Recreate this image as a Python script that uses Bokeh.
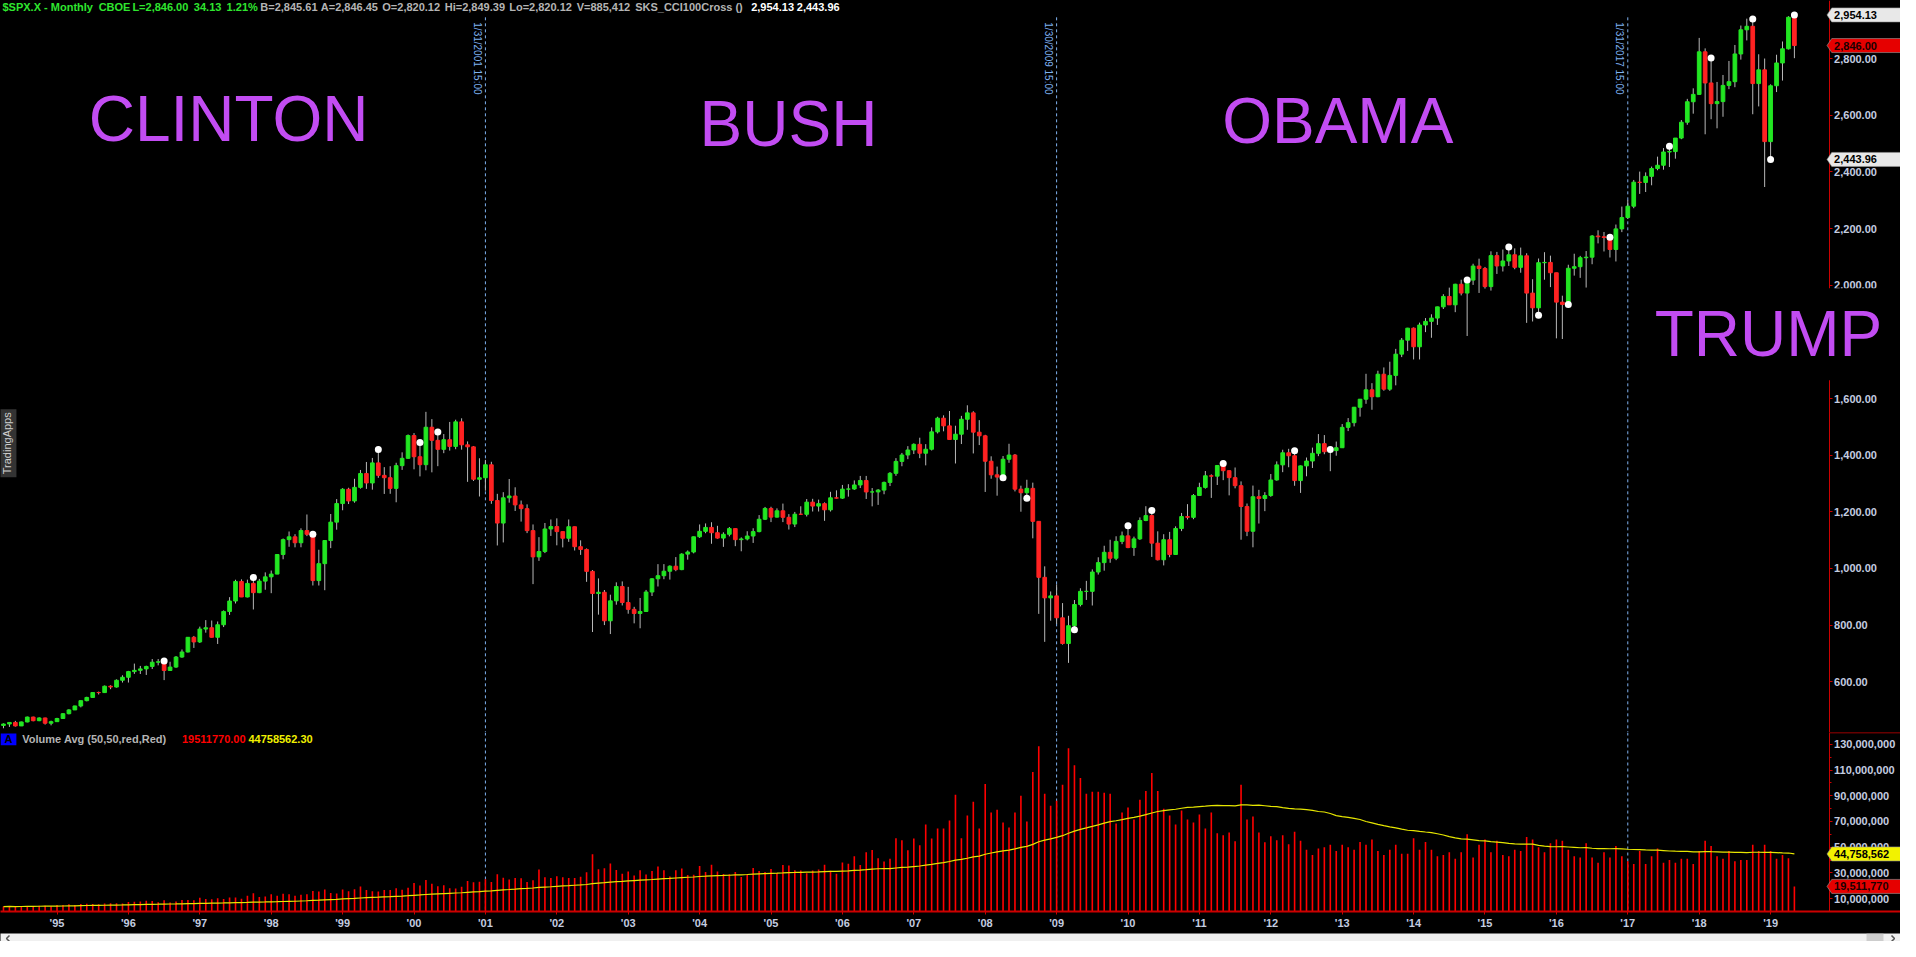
import numpy as np
import pandas as pd
from bokeh.plotting import figure
from bokeh.layouts import column
from bokeh.models import Range1d, FixedTicker, NumeralTickFormatter, Label, Span, LinearAxis
from bokeh.embed import file_html
from bokeh.resources import INLINE

# ------------------------------------------------------------------ data
first_month = "1994-04"
first_open = 445.77

close_1994 = [450.91, 456.50, 444.27, 458.26, 475.49, 462.69, 472.35, 453.69, 459.27]
high_1994 = [453.0, 457.6, 462.0, 459.3, 477.1, 476.9, 474.5, 473.2, 462.7]
low_1994 = [435.9, 440.7, 441.9, 443.8, 456.9, 460.5, 461.0, 449.0, 446.3]

close_1995 = [470.42, 487.39, 500.71, 514.71, 533.40, 544.75, 562.06, 561.88, 584.41, 581.50, 605.37, 615.93]
high_1995 = [472.8, 489.2, 503.2, 515.3, 533.8, 547.1, 563.8, 565.3, 586.8, 587.6, 608.4, 622.9]
low_1995 = [458.0, 468.9, 485.1, 500.2, 509.8, 531.0, 544.2, 555.2, 560.4, 573.9, 579.8, 597.3]

close_1996 = [636.02, 640.43, 645.50, 654.17, 669.12, 670.63, 639.95, 651.99, 687.33, 705.27, 757.02, 740.74]
high_1996 = [638.5, 664.2, 656.0, 656.7, 680.3, 680.3, 673.0, 670.7, 690.9, 714.1, 758.0, 761.8]
low_1996 = [597.3, 628.0, 627.6, 624.1, 645.0, 658.0, 605.9, 639.7, 649.5, 684.9, 703.5, 719.5]

close_1997 = [786.16, 790.82, 757.12, 801.34, 848.28, 885.14, 954.29, 899.47, 947.28, 914.62, 955.40, 970.43]
high_1997 = [794.7, 817.7, 816.3, 812.9, 851.9, 898.7, 960.3, 961.6, 960.5, 968.5, 963.1, 986.3]
low_1997 = [737.0, 773.4, 756.1, 733.5, 793.2, 836.1, 876.4, 899.0, 898.0, 855.3, 913.0, 924.9]

close_1998 = [980.28, 1049.34, 1101.75, 1111.75, 1090.82, 1133.84, 1120.67, 957.28, 1017.01, 1098.67, 1163.63, 1229.23]
high_1998 = [992.7, 1051.0, 1105.7, 1130.5, 1121.0, 1141.8, 1190.6, 1121.0, 1066.1, 1100.0, 1192.3, 1244.9]
low_1998 = [912.8, 980.0, 1032.5, 1076.7, 1074.7, 1074.9, 1114.3, 939.98, 939.9, 923.3, 1071.8, 1136.9]

close_1999 = [1279.64, 1238.33, 1286.37, 1335.18, 1301.84, 1372.71, 1328.72, 1320.41, 1282.71, 1362.93, 1388.91, 1469.25]
high_1999 = [1283.5, 1284.9, 1316.6, 1347.8, 1375.98, 1390.2, 1420.3, 1357.7, 1361.0, 1373.2, 1410.0, 1473.1]
low_1999 = [1205.5, 1227.5, 1232.2, 1281.9, 1281.0, 1278.2, 1320.0, 1263.1, 1263.6, 1233.7, 1348.0, 1387.4]

close_2000 = [1394.46, 1366.42, 1498.58, 1452.43, 1420.60, 1454.60, 1430.83, 1517.68, 1436.51, 1429.40, 1314.95, 1320.28]
high_2000 = [1478.0, 1444.6, 1552.9, 1527.2, 1481.5, 1474.6, 1517.3, 1525.2, 1530.1, 1448.6, 1431.8, 1389.1]
low_2000 = [1350.1, 1325.1, 1346.6, 1339.4, 1361.1, 1407.0, 1416.1, 1421.0, 1419.4, 1305.8, 1308.9, 1254.1]

close_2001 = [1366.01, 1239.94, 1160.33, 1249.46, 1255.82, 1224.42, 1211.23, 1133.58, 1040.94, 1059.78, 1139.45, 1148.08]
high_2001 = [1383.4, 1376.7, 1263.5, 1269.3, 1315.9, 1286.6, 1239.8, 1226.3, 1155.4, 1110.6, 1160.6, 1173.0]
low_2001 = [1274.6, 1228.3, 1081.2, 1091.9, 1232.4, 1203.0, 1165.5, 1124.9, 944.8, 1026.8, 1054.3, 1114.9]

close_2002 = [1130.20, 1106.73, 1147.39, 1076.92, 1067.14, 989.82, 911.62, 916.07, 815.28, 885.76, 936.31, 879.82]
high_2002 = [1176.97, 1130.5, 1173.0, 1147.8, 1099.3, 1070.7, 994.5, 965.0, 924.0, 907.4, 951.1, 954.3]
low_2002 = [1081.7, 1074.4, 1094.0, 1063.5, 1048.0, 952.9, 775.7, 837.0, 800.2, 768.6, 872.1, 869.5]

close_2003 = [855.70, 841.15, 848.18, 916.92, 963.59, 974.50, 990.31, 1008.01, 995.97, 1050.71, 1058.20, 1111.92]
high_2003 = [935.1, 864.6, 895.9, 924.2, 965.4, 1015.3, 1015.4, 1011.0, 1040.3, 1053.8, 1063.7, 1112.6]
low_2003 = [840.3, 806.3, 788.9, 847.9, 902.8, 936.4, 962.1, 960.8, 990.4, 994.0, 1031.2, 1053.4]

close_2004 = [1131.13, 1144.94, 1126.21, 1107.30, 1120.68, 1140.84, 1101.72, 1104.24, 1114.58, 1130.20, 1173.82, 1211.92]
high_2004 = [1155.4, 1158.98, 1163.2, 1150.6, 1127.7, 1146.3, 1142.0, 1109.7, 1131.5, 1142.1, 1188.5, 1217.3]
low_2004 = [1108.0, 1124.4, 1087.2, 1105.0, 1076.3, 1113.3, 1078.8, 1060.7, 1099.2, 1090.2, 1127.6, 1171.0]

close_2005 = [1181.27, 1203.60, 1180.59, 1156.85, 1191.50, 1191.33, 1234.18, 1220.33, 1228.81, 1207.01, 1249.48, 1248.29]
high_2005 = [1217.9, 1212.2, 1229.1, 1191.9, 1199.6, 1219.6, 1245.2, 1245.9, 1243.1, 1233.3, 1270.6, 1275.8]
low_2005 = [1163.8, 1180.0, 1163.7, 1137.5, 1146.2, 1188.8, 1183.6, 1201.1, 1201.1, 1168.2, 1201.1, 1246.6]

close_2006 = [1280.08, 1280.66, 1294.83, 1310.61, 1270.09, 1270.20, 1276.66, 1303.82, 1335.85, 1377.94, 1400.63, 1418.30]
high_2006 = [1294.9, 1297.6, 1310.9, 1326.7, 1326.7, 1284.0, 1280.4, 1306.7, 1340.3, 1389.5, 1407.9, 1431.8]
low_2006 = [1245.7, 1253.6, 1277.4, 1284.0, 1245.3, 1219.3, 1224.5, 1262.0, 1290.9, 1327.1, 1360.9, 1385.9]

close_2007 = [1438.24, 1406.82, 1420.86, 1482.37, 1530.62, 1503.35, 1455.27, 1473.99, 1526.75, 1549.38, 1481.14, 1468.36]
high_2007 = [1441.6, 1461.6, 1438.9, 1498.0, 1535.6, 1540.6, 1555.9, 1503.9, 1538.7, 1576.1, 1555.1, 1523.6]
low_2007 = [1403.97, 1389.4, 1363.98, 1416.4, 1476.7, 1484.2, 1454.3, 1370.6, 1439.3, 1489.6, 1406.1, 1435.7]

close_2008 = [1378.55, 1330.63, 1322.70, 1385.59, 1400.38, 1280.00, 1267.38, 1282.83, 1166.36, 968.75, 896.24, 903.25]
high_2008 = [1471.8, 1396.0, 1359.7, 1397.0, 1440.2, 1404.1, 1292.2, 1313.2, 1303.0, 1167.0, 1007.5, 918.9]
low_2008 = [1270.1, 1316.8, 1256.98, 1320.0, 1373.1, 1272.0, 1200.4, 1247.5, 1106.4, 839.8, 741.0, 815.7]

close_2009 = [825.88, 735.09, 797.87, 872.81, 919.14, 919.32, 987.48, 1020.62, 1057.08, 1036.19, 1095.63, 1115.10]
high_2009 = [943.9, 877.9, 832.98, 888.7, 930.2, 956.2, 996.7, 1039.5, 1080.2, 1101.4, 1113.7, 1130.4]
low_2009 = [804.3, 731.1, 666.8, 783.3, 866.1, 888.9, 869.3, 978.5, 992.3, 1020.2, 1029.4, 1085.9]

close_2010 = [1073.87, 1104.49, 1169.43, 1186.69, 1089.41, 1030.71, 1101.60, 1049.33, 1141.20, 1183.26, 1180.55, 1257.64]
high_2010 = [1150.5, 1112.4, 1180.2, 1219.8, 1205.1, 1131.2, 1120.95, 1129.2, 1148.7, 1196.1, 1227.1, 1262.6]
low_2010 = [1071.6, 1044.5, 1101.0, 1167.0, 1040.8, 1028.3, 1010.9, 1039.7, 1048.1, 1131.9, 1173.0, 1173.8]

close_2011 = [1286.12, 1327.22, 1325.83, 1363.61, 1345.20, 1320.64, 1292.28, 1218.89, 1131.42, 1253.30, 1246.96, 1257.60]
high_2011 = [1302.7, 1344.1, 1332.3, 1364.6, 1370.6, 1346.0, 1356.5, 1307.4, 1229.3, 1292.7, 1277.6, 1269.4]
low_2011 = [1257.5, 1282.0, 1249.1, 1294.7, 1311.8, 1258.1, 1282.9, 1101.5, 1114.2, 1074.8, 1158.7, 1202.4]

close_2012 = [1312.41, 1365.68, 1408.47, 1397.91, 1310.33, 1362.16, 1379.32, 1406.58, 1440.67, 1412.16, 1416.18, 1426.19]
high_2012 = [1333.5, 1378.0, 1419.2, 1422.4, 1415.3, 1363.5, 1391.7, 1426.7, 1474.5, 1470.96, 1419.7, 1448.0]
low_2012 = [1253.0, 1310.0, 1340.0, 1357.4, 1291.98, 1266.7, 1325.4, 1354.7, 1396.6, 1403.3, 1343.4, 1398.1]

close_2013 = [1498.11, 1514.68, 1569.19, 1597.57, 1630.74, 1606.28, 1685.73, 1632.97, 1681.55, 1756.54, 1805.81, 1848.36]
high_2013 = [1509.9, 1530.9, 1570.3, 1597.6, 1687.2, 1654.2, 1698.0, 1709.7, 1729.9, 1775.2, 1813.6, 1849.4]
low_2013 = [1426.0, 1485.0, 1501.5, 1536.0, 1581.3, 1560.3, 1604.6, 1627.5, 1627.0, 1646.5, 1746.2, 1767.99]

close_2014 = [1782.59, 1859.45, 1872.34, 1883.95, 1923.57, 1960.23, 1930.67, 2003.37, 1972.29, 2018.05, 2067.56, 2058.90]
high_2014 = [1850.8, 1867.9, 1883.97, 1897.3, 1924.0, 1968.2, 1991.4, 2005.0, 2019.3, 2018.2, 2075.8, 2093.6]
low_2014 = [1737.9, 1737.9, 1834.4, 1814.4, 1859.8, 1915.98, 1930.0, 1904.8, 1964.0, 1820.7, 2001.0, 1972.6]

close_2015 = [1994.99, 2104.50, 2067.89, 2085.51, 2107.39, 2063.11, 2103.84, 1972.18, 1920.03, 2079.36, 2080.41, 2043.94]
high_2015 = [2064.4, 2119.6, 2117.5, 2125.9, 2134.7, 2130.0, 2132.8, 2112.7, 2021.0, 2094.3, 2116.5, 2104.3]
low_2015 = [1988.1, 1980.9, 2039.7, 2048.4, 2067.9, 2056.3, 2044.0, 1867.0, 1871.9, 1893.7, 2019.4, 1993.3]

close_2016 = [1940.24, 1932.23, 2059.74, 2065.30, 2096.95, 2098.86, 2173.60, 2170.95, 2168.27, 2126.15, 2198.81, 2238.83]
high_2016 = [2044.0, 1962.96, 2072.2, 2111.1, 2103.5, 2120.6, 2177.1, 2193.8, 2187.9, 2169.6, 2214.1, 2277.5]
low_2016 = [1812.3, 1810.1, 1931.8, 2033.8, 2025.9, 1991.7, 2074.0, 2147.6, 2119.1, 2097.8, 2083.8, 2187.4]

close_2017 = [2278.87, 2363.64, 2362.72, 2384.20, 2411.80, 2423.41, 2470.30, 2471.65, 2519.36, 2575.26, 2647.58, 2673.61]
high_2017 = [2300.99, 2371.5, 2400.98, 2398.2, 2418.7, 2453.8, 2484.0, 2490.9, 2519.4, 2582.98, 2657.7, 2694.97]
low_2017 = [2233.6, 2271.7, 2322.3, 2328.95, 2352.7, 2405.7, 2407.7, 2417.35, 2446.6, 2515.4, 2566.3, 2605.5]

close_2018 = [2823.81, 2713.83, 2640.87, 2648.05, 2705.27, 2718.37, 2816.29, 2901.52, 2913.98, 2711.74, 2760.17, 2506.85]
high_2018 = [2872.9, 2835.96, 2801.9, 2717.5, 2742.1, 2791.5, 2848.0, 2916.5, 2940.9, 2939.9, 2815.2, 2800.2]
low_2018 = [2671.9, 2532.7, 2585.9, 2553.8, 2594.6, 2691.99, 2698.95, 2796.3, 2864.1, 2603.5, 2631.1, 2346.6]

close_2019 = [2704.10, 2784.49, 2834.40, 2945.83, 2846.00]
high_2019 = [2708.95, 2813.5, 2860.3, 2949.5, 2954.13]
low_2019 = [2443.96, 2681.8, 2722.3, 2832.0, 2801.4]

# monthly volume, millions
vol_1994 = [3.8, 4.1, 3.7, 3.9, 4.3, 4.2, 4.5, 4.4, 4.1]
vol_1995 = [5.0, 5.1, 5.6, 5.0, 5.9, 6.1, 5.9, 5.7, 6.2, 6.5, 6.4, 6.2]
vol_1996 = [7.4, 7.6, 7.8, 8.4, 8.1, 7.2, 8.8, 7.0, 7.7, 9.0, 8.9, 8.8]
vol_1997 = [10.6, 9.8, 9.5, 10.3, 9.8, 10.8, 10.8, 10.0, 12.3, 14.2, 11.2, 11.6]
vol_1998 = [13.4, 12.2, 13.8, 13.5, 12.2, 13.1, 13.5, 16.0, 15.6, 17.2, 14.3, 14.0]
vol_1999 = [17.1, 15.7, 17.4, 19.4, 16.7, 15.8, 15.6, 16.7, 16.7, 18.0, 16.9, 18.5]
vol_2000 = [22.1, 20.2, 24.4, 21.6, 19.7, 20.5, 18.1, 17.9, 19.2, 23.8, 22.8, 23.1]
vol_2001 = [25.1, 23.0, 28.9, 26.3, 24.8, 26.0, 25.9, 23.0, 24.3, 32.6, 26.6, 26.0]
vol_2002 = [27.5, 26.6, 26.0, 26.0, 27.0, 30.5, 44.5, 32.8, 33.6, 37.4, 32.2, 29.3]
vol_2003 = [31.1, 27.9, 32.0, 28.7, 31.4, 35.0, 32.0, 27.3, 32.0, 33.4, 28.4, 28.5]
vol_2004 = [35.3, 30.8, 36.3, 31.2, 29.1, 29.0, 30.7, 26.9, 28.7, 33.8, 31.4, 30.7]
vol_2005 = [33.1, 30.0, 36.1, 35.7, 32.1, 31.8, 29.7, 31.9, 32.6, 36.3, 31.6, 29.4]
vol_2006 = [38.1, 37.2, 43.0, 36.1, 46.1, 47.9, 41.4, 38.8, 41.1, 57.0, 55.4, 47.7]
vol_2007 = [56.7, 51.5, 67.7, 56.7, 64.6, 64.6, 70.8, 90.8, 57.0, 74.6, 85.4, 64.6]
vol_2008 = [99.2, 76.9, 79.2, 69.2, 65.4, 76.9, 90.0, 70.0, 108.5, 128.5, 91.5, 82.3]
vol_2009 = [86.2, 98.5, 126.9, 113.8, 103.8, 91.5, 93.1, 93.1, 92.3, 91.5, 68.5, 76.9]
vol_2010 = [80.8, 71.5, 86.9, 93.8, 107.7, 93.8, 80.0, 74.6, 67.7, 78.5, 71.5, 69.2]
vol_2011 = [75.4, 64.6, 76.9, 60.8, 59.2, 61.5, 54.6, 98.5, 71.5, 73.8, 61.5, 53.8]
vol_2012 = [58.5, 55.4, 59.2, 52.3, 62.0, 55.0, 48.0, 44.0, 49.0, 50.0, 52.0, 47.0]
vol_2013 = [52.0, 50.0, 48.0, 54.0, 52.0, 56.0, 47.0, 44.0, 48.0, 52.0, 45.0, 45.0]
vol_2014 = [57.0, 48.0, 54.0, 48.0, 43.0, 44.0, 46.0, 41.0, 46.0, 60.0, 42.0, 52.0]
vol_2015 = [56.0, 46.0, 55.0, 44.0, 43.0, 48.0, 47.0, 58.0, 56.0, 50.0, 46.0, 53.0]
vol_2016 = [56.0, 55.0, 48.0, 43.0, 42.0, 53.0, 42.0, 38.0, 46.0, 42.0, 51.0, 43.0]
vol_2017 = [39.0, 37.0, 47.0, 37.0, 43.0, 49.0, 38.0, 40.0, 38.0, 41.0, 41.0, 37.0]
vol_2018 = [47.0, 55.0, 51.0, 43.0, 41.0, 47.0, 39.0, 40.0, 40.0, 52.0, 47.0, 52.0]
vol_2019 = [47.0, 41.0, 44.0, 41.41635, 19.51177]

# SKS_CCI100Cross signal dots (month, placed at that month's high or low)
cci_high_months = ["1996-07", "1997-10", "1998-08", "1999-07", "2000-02", "2000-05", "2010-01",
                   "2010-05", "2011-05", "2012-05", "2012-11", "2014-10", "2015-05", "2016-10",
                   "2017-08", "2018-03", "2018-10", "2019-05"]
cci_low_months = ["2008-04", "2008-08", "2009-04", "2015-10", "2016-03", "2019-01"]

# inauguration markers
term_months = ["2001-01", "2009-01", "2017-01"]
term_labels = ["1/31/2001 15:00", "1/30/2009 15:00", "1/31/2017 15:00"]
presidents = ["CLINTON", "BUSH", "OBAMA", "TRUMP"]

year_labels = ["'95", "'96", "'97", "'98", "'99", "'00", "'01", "'02", "'03", "'04", "'05", "'06",
               "'07", "'08", "'09", "'10", "'11", "'12", "'13", "'14", "'15", "'16", "'17", "'18", "'19"]
price_ticks = [600, 800, 1000, 1200, 1400, 1600, 1800, 2000, 2200, 2400, 2600, 2800]
volume_ticks = [10e6, 30e6, 50e6, 70e6, 90e6, 110e6, 130e6]
volume_minor = [20e6, 40e6, 60e6, 80e6, 100e6, 120e6]

header_green = ["$SPX.X - Monthly", "CBOE", "L=2,846.00", "34.13", "1.21%"]
header_gray = ["B=2,845.61", "A=2,846.45", "O=2,820.12", "Hi=2,849.39", "Lo=2,820.12", "V=885,412",
               "SKS_CCI100Cross ()"]
header_white = ["2,954.13", "2,443.96"]
last_price = 2846.00
volume_legend = ["Volume Avg (50,50,red,Red)", "19511770.00", "44758562.30"]

# ------------------------------------------------------------------ assemble
closes = (close_1994 + close_1995 + close_1996 + close_1997 + close_1998 + close_1999 + close_2000 +
          close_2001 + close_2002 + close_2003 + close_2004 + close_2005 + close_2006 + close_2007 +
          close_2008 + close_2009 + close_2010 + close_2011 + close_2012 + close_2013 + close_2014 +
          close_2015 + close_2016 + close_2017 + close_2018 + close_2019)
highs = (high_1994 + high_1995 + high_1996 + high_1997 + high_1998 + high_1999 + high_2000 +
         high_2001 + high_2002 + high_2003 + high_2004 + high_2005 + high_2006 + high_2007 +
         high_2008 + high_2009 + high_2010 + high_2011 + high_2012 + high_2013 + high_2014 +
         high_2015 + high_2016 + high_2017 + high_2018 + high_2019)
lows = (low_1994 + low_1995 + low_1996 + low_1997 + low_1998 + low_1999 + low_2000 +
        low_2001 + low_2002 + low_2003 + low_2004 + low_2005 + low_2006 + low_2007 +
        low_2008 + low_2009 + low_2010 + low_2011 + low_2012 + low_2013 + low_2014 +
        low_2015 + low_2016 + low_2017 + low_2018 + low_2019)
vols_m = (vol_1994 + vol_1995 + vol_1996 + vol_1997 + vol_1998 + vol_1999 + vol_2000 +
          vol_2001 + vol_2002 + vol_2003 + vol_2004 + vol_2005 + vol_2006 + vol_2007 +
          vol_2008 + vol_2009 + vol_2010 + vol_2011 + vol_2012 + vol_2013 + vol_2014 +
          vol_2015 + vol_2016 + vol_2017 + vol_2018 + vol_2019)


def month_index(s):
    y, m = s.split("-")
    return (int(y) - 1995) * 12 + int(m) - 1


n = len(closes)
i0 = month_index(first_month)
idx = np.arange(n) + i0
c = np.array(closes)
o = np.array([first_open] + closes[:-1])
h = np.maximum(np.array(highs), np.maximum(o, c))
l = np.minimum(np.array(lows), np.minimum(o, c))
vol = np.array(vols_m) * 1e6
vol_avg = pd.Series(vol).rolling(50, min_periods=1).mean().values
up = c >= o

# ------------------------------------------------------------------ geometry
FONT = "Liberation Sans"
TOTAL_W = 1900
PRICE_H, VOL_H, AXIS_H, SCROLL_H = 732, 179, 20, 10
X0 = -9.5                   # left edge (month index)
X1 = -9.5 + 1844 / 6.0      # price / volume axis line
X2 = -9.5 + 1916 / 6.0      # right edge
P0, P1 = 421.0, 3005.0
V1 = 139.2e6

GREEN = "#22e622"
RED = "#ff2222"
WICK = "#b8b8b8"
AXIS_RED = "#cc0000"
TICK_TXT = "#c4cde0"
DASH = "#7fb2f0"
PURPLE = "#c24cf2"


def rx(x_ref):          # reference pixel x -> month index
    return X0 + x_ref / 6.0


def ry(y_ref):          # reference pixel y -> price
    return P1 - y_ref * (P1 - P0) / 739.0


def rv(y_ref):          # reference pixel y -> volume
    return (920.0 - y_ref) / 181.0 * V1


x_range = Range1d(X0, X2)


def base_fig(height, y_range, x_loc=None):
    f = figure(width=TOTAL_W, height=height, x_range=x_range, y_range=y_range,
               output_backend="svg", toolbar_location=None, x_axis_location=x_loc,
               y_axis_location=None, min_border=0, background_fill_color="black",
               border_fill_color="black", outline_line_color=None)
    f.grid.visible = False
    return f


def right_axis(f, ticks, minor, fmt):
    ax = LinearAxis(fixed_location=X1, ticker=FixedTicker(ticks=ticks, minor_ticks=minor),
                    formatter=NumeralTickFormatter(format=fmt))
    ax.axis_line_color = AXIS_RED
    ax.major_tick_line_color = AXIS_RED
    ax.minor_tick_line_color = AXIS_RED
    ax.major_tick_out = 3
    ax.major_tick_in = 0
    ax.minor_tick_out = 2
    ax.minor_tick_in = 0
    ax.major_label_standoff = 2
    ax.major_label_text_color = TICK_TXT
    ax.major_label_text_font = FONT
    ax.major_label_text_font_size = "11px"
    ax.major_label_text_font_style = "bold"
    f.add_layout(ax, "right")
    return ax


def label(fig, x, y, text, color, size="11px", style="bold", **kw):
    lab = Label(x=x, y=y, text=text, text_color=color, text_font=FONT, text_font_size=size,
                text_font_style=style, level="overlay", **kw)
    fig.add_layout(lab)
    return lab


def marker_box(fig, yv, half_h, fill, text, tcolor):
    fig.patch(x=[X1 - 0.35, X1 + 0.45, X2, X2, X1 + 0.45],
              y=[yv, yv + half_h, yv + half_h, yv - half_h, yv - half_h],
              fill_color=fill, line_color="#9a9a9a", line_width=0.6, level="overlay")
    label(fig, X1, yv, text, tcolor, text_align="left", text_baseline="middle", x_offset=5)


# ------------------------------------------------------------------ price panel
p = base_fig(PRICE_H, Range1d(P0, P1))
right_axis(p, price_ticks, [], "0,0.00")
price_per_px = (P1 - P0) / PRICE_H

term_idx = [month_index(s) for s in term_months]
p.segment(x0=term_idx, y0=[ry(17)] * 3, x1=term_idx, y1=[P0] * 3,
          line_color=DASH, line_dash="3 3", line_width=1)

p.segment(x0=idx, y0=h, x1=idx, y1=l, line_color=WICK, line_width=1)
p.vbar(x=idx[up], bottom=o[up], top=c[up], width=0.62, fill_color=GREEN, line_color=GREEN, line_width=1)
p.vbar(x=idx[~up], bottom=o[~up], top=c[~up], width=0.62, fill_color=RED, line_color=RED, line_width=1)

hi_i = np.array([month_index(s) for s in cci_high_months]) - i0
lo_i = np.array([month_index(s) for s in cci_low_months]) - i0
p.scatter(x=idx[hi_i], y=h[hi_i], size=7, marker="circle", fill_color="white", line_color=None)
p.scatter(x=idx[lo_i], y=l[lo_i], size=7, marker="circle", fill_color="white", line_color=None)

for ti, tl in zip(term_idx, term_labels):
    label(p, ti - 0.45, ry(22), tl, DASH, size="10px", style="normal", angle=-np.pi / 2,
          text_align="left", text_baseline="top")

# president names (x = left edge, y = text anchor, reference pixels)
pres_pos = [(89, 120), (705, 125), (1232, 122), (1658, 337)]
for name, (xr, yr) in zip(presidents, pres_pos):
    extra = dict(background_fill_color="black", padding=10) if name == "TRUMP" else {}
    label(p, rx(xr), ry(yr), name, PURPLE, size="64px", style="normal",
          text_align="left", text_baseline="alphabetic", **extra)

# header
head_x_green = [2, 99, 133, 195, 228]
head_x_gray = [262, 323, 385, 448, 513, 581, 640]
head_x_white = [757, 803]
for t, xr in zip(header_green, head_x_green):
    label(p, rx(xr), ry(7), t, "#2fe62f", text_align="left", text_baseline="middle")
for t, xr in zip(header_gray, head_x_gray):
    label(p, rx(xr), ry(7), t, "#b4b4b4", text_align="left", text_baseline="middle")
for t, xr in zip(header_white, head_x_white):
    label(p, rx(xr), ry(7), t, "#ffffff", text_align="left", text_baseline="middle")

# side tag
label(p, rx(7), ry(447), "TradingApps", "#cfcfcf", style="normal", angle=np.pi / 2,
      text_align="center", text_baseline="middle", background_fill_color="#333333", padding=3)

# price markers on the axis
hh = 7 * price_per_px
marker_box(p, float(header_white[0].replace(",", "")), hh, "#e8e8e8", header_white[0], "#000000")
marker_box(p, last_price, hh, "#e60000", f"{last_price:,.2f}", "#1a0000")
marker_box(p, float(header_white[1].replace(",", "")), hh, "#e8e8e8", header_white[1], "#000000")

# ------------------------------------------------------------------ volume panel
v = base_fig(VOL_H + AXIS_H, Range1d(0, V1), x_loc="below")
right_axis(v, volume_ticks, volume_minor, "0,0")
vol_per_px = V1 / VOL_H
xa = v.xaxis[0]
xa.ticker = FixedTicker(ticks=[12 * k for k in range(len(year_labels))], minor_ticks=[])
xa.major_label_overrides = {12 * k: s for k, s in enumerate(year_labels)}
xa.axis_line_color = AXIS_RED
xa.axis_line_width = 2
xa.major_tick_line_color = AXIS_RED
xa.major_tick_out = 3
xa.major_tick_in = 0
xa.major_label_standoff = 2
xa.major_label_text_color = TICK_TXT
xa.major_label_text_font = FONT
xa.major_label_text_font_size = "11px"
xa.major_label_text_font_style = "bold"

for ti in term_idx:
    v.add_layout(Span(location=ti, dimension="height", line_color=DASH, line_dash="3 3",
                      line_width=1, level="underlay"))
v.segment(x0=[X1], y0=[V1], x1=[X2], y1=[V1], line_color=AXIS_RED, line_width=1.5)
v.segment(x0=idx, y0=np.zeros(n), x1=idx, y1=vol, line_color="#ff0000", line_width=1.6)
v.line(idx, vol_avg, line_color="#e6e600", line_width=1.2)

v.quad(left=[rx(0)], right=[rx(16)], bottom=[rv(752)], top=[rv(740)], fill_color="#0000ff", line_color=None)
label(v, rx(8), rv(746), "A", "#000000", text_align="center", text_baseline="middle")
legend_x = [22, 183, 250]
legend_c = ["#b4b4b4", "#ff0000", "#f0f000"]
for t, xr, col in zip(volume_legend, legend_x, legend_c):
    label(v, rx(xr), rv(746), t, col, text_align="left", text_baseline="middle")

vh = 7 * vol_per_px
marker_box(v, vol_avg[-1], vh, "#f2f200", f"{vol_avg[-1]:,.0f}", "#000000")
marker_box(v, vol[-1], vh, "#e60000", f"{vol[-1]:,.0f}", "#1a0000")

# ------------------------------------------------------------------ scroll strip
s = figure(width=TOTAL_W, height=SCROLL_H, x_range=Range1d(0, TOTAL_W),
           y_range=Range1d(0, SCROLL_H), output_backend="svg", toolbar_location=None,
           x_axis_location=None, y_axis_location=None, min_border=0,
           background_fill_color="#f0f0f0", border_fill_color="#f0f0f0", outline_line_color=None)
s.grid.visible = False
s.quad(left=[1866], right=[1883], bottom=[0], top=[SCROLL_H], fill_color="#cdcdcd", line_color=None)
s.line([9, 6, 9], [8, 5, 2], line_color="#555555", line_width=1.5)
s.line([1891, 1894, 1891], [8, 5, 2], line_color="#555555", line_width=1.5)

layout = column(p, v, s, spacing=0, styles={"background-color": "black"})
open("out.html", "w").write(file_html(layout, INLINE))
